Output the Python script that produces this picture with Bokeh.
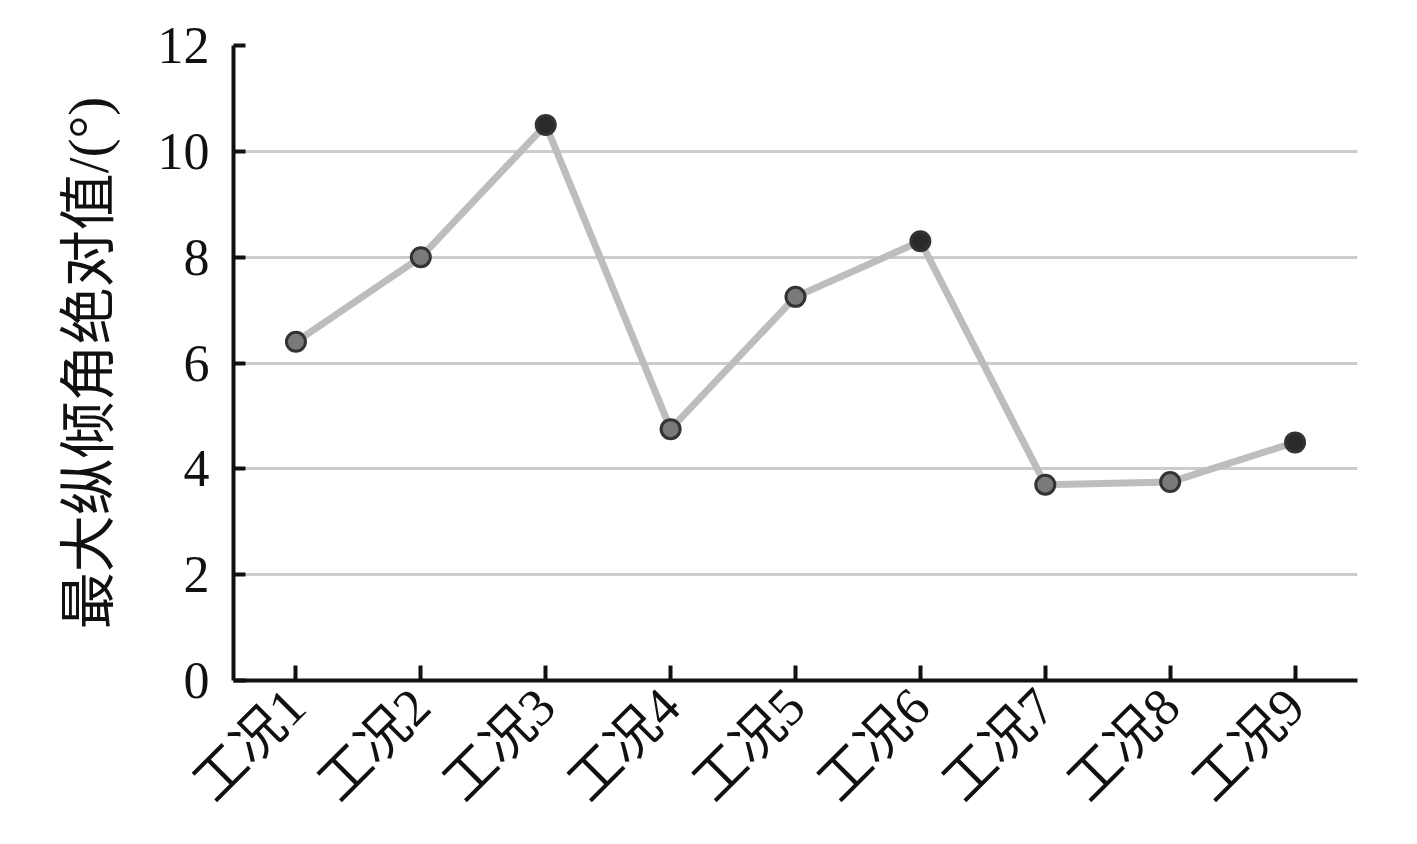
from math import pi
from bokeh.plotting import figure
from bokeh.models import ColumnDataSource, FixedTicker, Range1d
from bokeh.embed import file_html
from bokeh.resources import INLINE

categories = ["工况1", "工况2", "工况3", "工况4", "工况5", "工况6", "工况7", "工况8", "工况9"]
values = [6.4, 8.0, 10.5, 4.75, 7.25, 8.3, 3.7, 3.75, 4.5]
marker_fill = ["#7a7a7a", "#7a7a7a", "#2a2a2a", "#7a7a7a", "#7a7a7a", "#2a2a2a", "#7a7a7a", "#7a7a7a", "#2a2a2a"]
y_ticks = [0, 2, 4, 6, 8, 10, 12]

src = ColumnDataSource(dict(x=categories, y=values, fill=marker_fill))

FONT = "Liberation Serif, Times New Roman, Noto Sans CJK SC, serif"

p = figure(x_range=categories, y_range=Range1d(0, 12), width=1400, height=836,
           output_backend="svg", toolbar_location=None,
           min_border_left=233, min_border_top=45, min_border_right=43, min_border_bottom=156)
p.outline_line_color = None
p.background_fill_color = "white"
p.border_fill_color = "white"

p.xgrid.grid_line_color = None
p.ygrid.grid_line_color = "#cccccc"
p.ygrid.grid_line_width = 3
p.yaxis.ticker = FixedTicker(ticks=y_ticks)

for ax in (p.xaxis[0], p.yaxis[0]):
    ax.axis_line_width = 4
    ax.axis_line_color = "#111111"
    ax.major_tick_line_width = 4
    ax.major_tick_line_color = "#111111"
    ax.minor_tick_line_color = None
    ax.major_tick_out = 0
    ax.major_label_text_font = FONT
    ax.major_label_text_color = "#111111"

p.yaxis.major_tick_in = 12
p.xaxis.major_tick_in = 15
p.yaxis.major_label_text_font_size = "52px"
p.yaxis.major_label_standoff = 24
p.xaxis.major_label_text_font_size = "53px"
p.xaxis.major_label_orientation = pi / 4
p.xaxis.major_label_standoff = 17

p.yaxis.axis_label = "最大纵倾角绝对值/(°)"
p.yaxis.axis_label_text_font = FONT
p.yaxis.axis_label_text_font_size = "57px"
p.yaxis.axis_label_text_font_style = "normal"
p.yaxis.axis_label_text_color = "#111111"
p.yaxis.axis_label_standoff = 35

p.line("x", "y", source=src, line_color="#bdbdbd", line_width=7)
p.scatter("x", "y", source=src, size=19, fill_color="fill", line_color="#333333", line_width=3)

open("out.html", "w").write(file_html(p, INLINE))
